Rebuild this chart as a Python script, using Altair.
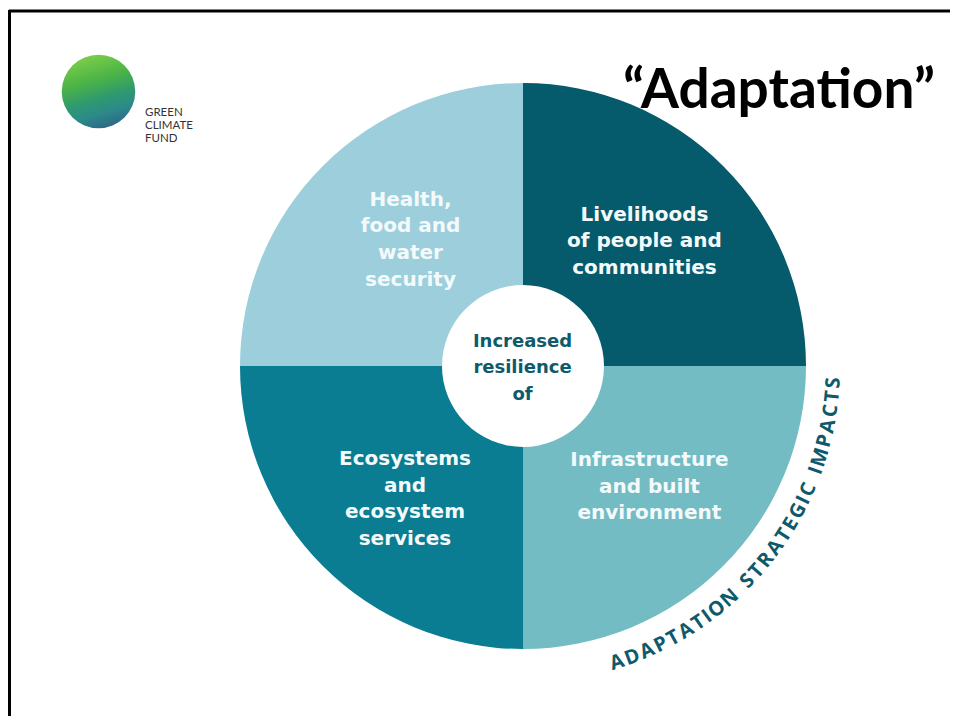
import math
import altair as alt
import pandas as pd

# ---------------- data ----------------
quadrants = ["Livelihoods", "Infrastructure", "Ecosystems", "Health"]
quadrant_order = [0, 1, 2, 3]
quadrant_share = [1, 1, 1, 1]
quadrant_labels = [
    ["Livelihoods", "of people and", "communities"],
    ["Infrastructure", "and built", "environment"],
    ["Ecosystems", "and", "ecosystem", "services"],
    ["Health,", "food and", "water", "security"],
]
quadrant_colors = ["#055a6c", "#74bcc3", "#0a7d92", "#9ccfdb"]
center_label = ["Increased", "resilience", "of"]
arc_caption = "ADAPTATION STRATEGIC IMPACTS"
title_text = "\u201cAdaptation\u201d"
logo_lines = ["GREEN", "CLIMATE", "FUND"]

# ---------------- layout ----------------
W, H = 942, 708
XS = alt.Scale(domain=[8, 950])
YS = alt.Scale(domain=[716, 8])
CX, CY = 523, 366
R_OUT, R_IN = 283, 81
label_cx = [644.5, 649.4, 405.0, 410.5]
label_cy = [241.2, 486.8, 499.1, 239.7]
center_c = (522.5, 368.1)
LH = 26.6


def px(v):
    return alt.X(datum=v, scale=XS, axis=None)


def py(v):
    return alt.Y(datum=v, scale=YS, axis=None)


def line_rows(lines, cx, cy, group):
    n = len(lines)
    return [
        {"g": group, "t": t, "lx": cx, "ly": cy + (i - (n - 1) / 2) * LH}
        for i, t in enumerate(lines)
    ]


# border (top and left edges of the slide frame)
dummy = pd.DataFrame({"k": [0]})
top_rule = alt.Chart(dummy).mark_rule(color="#000000", strokeWidth=3).encode(
    x=px(9), x2=alt.X2(datum=958), y=py(11)
)
left_rule = alt.Chart(dummy).mark_rule(color="#000000", strokeWidth=3).encode(
    x=px(9.5), y=py(10), y2=alt.Y2(datum=724)
)

# pie
pie_df = pd.DataFrame({"q": quadrants, "order": quadrant_order, "share": quadrant_share})
arcs = alt.Chart(pie_df).mark_arc(radius=R_OUT, innerRadius=R_IN).encode(
    theta=alt.Theta("share:Q", stack=True),
    order=alt.Order("order:Q"),
    x=px(CX),
    y=py(CY),
    color=alt.Color("q:N", scale=alt.Scale(domain=quadrants, range=quadrant_colors), legend=None),
)

rows = []
for q, lines, cx, cy in zip(quadrants, quadrant_labels, label_cx, label_cy):
    rows += line_rows(lines, cx, cy, q)
lab_df = pd.DataFrame(rows)
labels = alt.Chart(lab_df).mark_text(
    font="DejaVu Sans",
    fontWeight="bold",
    fontSize=20,
    color="#f4fafb",
    align="center",
    baseline="middle",
).encode(
    x=alt.X("lx:Q", scale=XS, axis=None),
    y=alt.Y("ly:Q", scale=YS, axis=None),
    text="t:N",
)

# centre label
center_df = pd.DataFrame(line_rows(center_label, center_c[0], center_c[1], "center"))
center = alt.Chart(center_df).mark_text(
    font="DejaVu Sans",
    fontWeight="bold",
    fontSize=18,
    color="#0f5a6a",
    align="center",
    baseline="middle",
).encode(
    x=alt.X("lx:Q", scale=XS, axis=None),
    y=alt.Y("ly:Q", scale=YS, axis=None),
    text="t:N",
)

# curved caption
cw = {"A": .72, "D": .75, "P": .66, "T": .62, "I": .34, "O": .78, "N": .76, "S": .62,
      "R": .70, "E": .60, "G": .76, "C": .70, "M": .90, " ": .42}
chars = list(arc_caption)
ws = [cw.get(c, .7) for c in chars]
mids, s = [], 0.0
for w in ws:
    mids.append(s + w / 2)
    s += w
T0, T1 = 162.4, 93.1
thetas = [T0 + (T1 - T0) * (m - mids[0]) / (mids[-1] - mids[0]) for m in mids]
cap_df = pd.DataFrame(
    {
        "ch": chars,
        "rad": [math.radians(t) for t in thetas],
        "ang": [(t + 180) % 360 for t in thetas],
    }
)
caption = alt.Chart(cap_df).mark_text(
    radius=311,
    font="Open Sans",
    fontWeight="bold",
    fontSize=20,
    color="#0e5a6c",
    align="center",
    baseline="middle",
).encode(
    x=px(CX),
    y=py(CY),
    theta=alt.Theta("rad:Q", scale=None, stack=False),
    angle=alt.Angle("ang:Q", scale=None),
    text="ch:N",
)

# title
title = alt.Chart(dummy).mark_text(
    text=title_text,
    font="Lato",
    fontWeight="bold",
    fontSize=55,
    color="#000000",
    align="center",
    baseline="alphabetic",
).encode(x=px(779), y=py(108))

# logo
logo_grad = alt.LinearGradient(
    gradient="linear",
    stops=[
        alt.GradientStop(offset=0, color="#7fd04a"),
        alt.GradientStop(offset=0.35, color="#4cb446"),
        alt.GradientStop(offset=0.6, color="#2f9a6e"),
        alt.GradientStop(offset=0.8, color="#2c8a8a"),
        alt.GradientStop(offset=1, color="#2d6787"),
    ],
    x1=0.3, y1=0, x2=0.6, y2=1,
)
logo = alt.Chart(dummy).mark_circle(
    size=math.pi * 41.5 ** 2, fill=logo_grad, opacity=1, strokeWidth=0
).encode(x=px(98.5), y=py(91.5))

logo_df = pd.DataFrame({"t": logo_lines, "yy": [113, 126, 139]})
logo_text = alt.Chart(logo_df).mark_text(
    font="Lato", fontSize=11.5, color="#333333", align="left", baseline="middle"
).encode(x=px(145), y=alt.Y("yy:Q", scale=YS, axis=None), text="t:N")

chart = (
    alt.layer(top_rule, left_rule, arcs, labels, center, caption, title, logo, logo_text)
    .properties(width=W, height=H, padding=0, autosize=alt.AutoSizeParams(type="none"), background="#ffffff")
    .configure_view(stroke=None)
)

chart.save("out.html", embed_options={"renderer": "svg", "actions": False})
